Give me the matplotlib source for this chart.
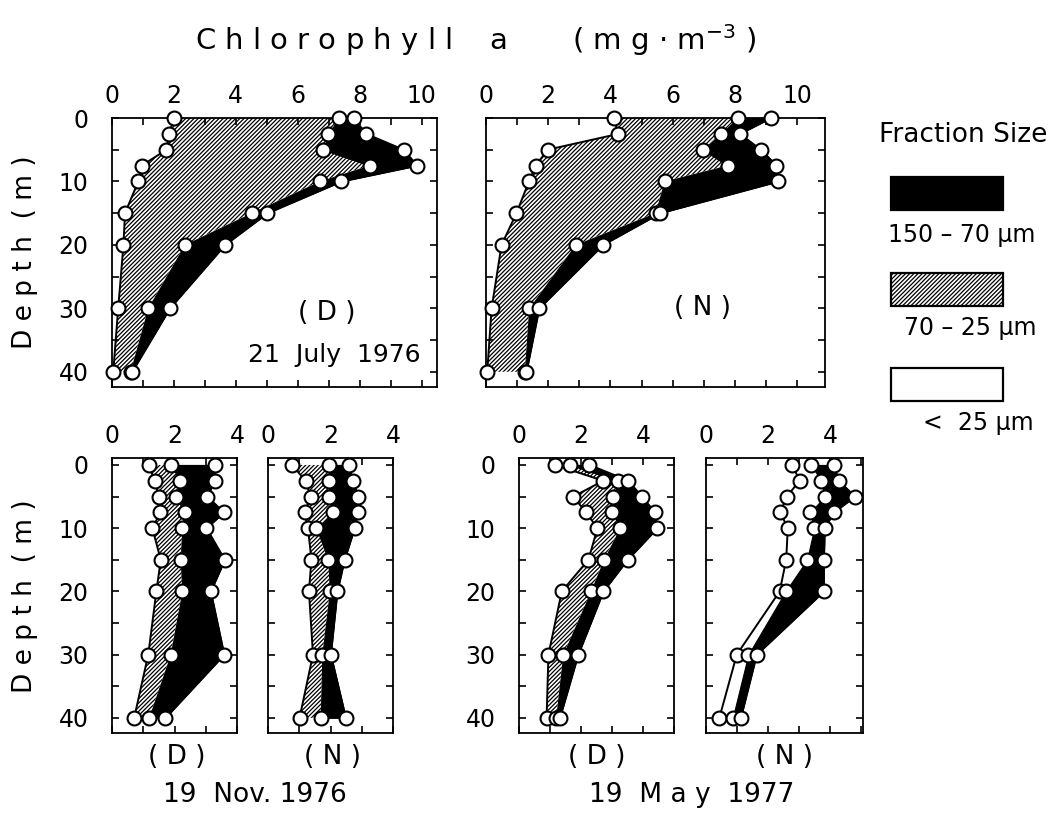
import matplotlib
matplotlib.use("Agg")
import matplotlib.pyplot as plt
from matplotlib.ticker import MultipleLocator
from matplotlib.patches import Rectangle

plt.rcParams["font.family"] = ["DejaVu Sans"]
plt.rcParams["hatch.color"] = "black"
plt.rcParams["hatch.linewidth"] = 0.9

# Sampling depths (m)
depths = [0, 2.5, 5, 7.5, 10, 15, 20, 30, 40]

# Cumulative chlorophyll a (mg m-3): <25 um, <70 um, <150 um
jul_d_small = [2.00, 1.85, 1.76, 0.96, 0.85, 0.42, 0.37, 0.20, 0.04]
jul_d_mid = [7.33, 6.99, 6.82, 8.32, 6.71, 4.51, 2.35, 1.17, 0.60]
jul_d_total = [7.81, 8.21, 9.42, 9.86, 7.41, 5.02, 3.65, 1.87, 0.65]

jul_n_small = [4.10, 4.26, 1.98, 1.60, 1.38, 0.98, 0.50, 0.18, 0.04]
jul_n_mid = [8.10, 7.55, 6.97, 7.77, 5.74, 5.45, 2.88, 1.39, 1.25]
jul_n_total = [9.16, 8.16, 8.84, 9.34, 9.40, 5.60, 3.76, 1.71, 1.30]

nov_d_small = [1.18, 1.36, 1.50, 1.55, 1.29, 1.56, 1.42, 1.16, 0.71]
nov_d_mid = [1.90, 2.16, 2.04, 2.32, 2.25, 2.20, 2.25, 1.88, 1.19]
nov_d_total = [3.29, 3.29, 3.05, 3.58, 3.02, 3.61, 3.16, 3.59, 1.71]

nov_n_small = [0.77, 1.20, 1.36, 1.17, 1.28, 1.39, 1.31, 1.44, 1.01]
nov_n_mid = [1.95, 1.95, 1.95, 2.09, 1.55, 1.93, 1.98, 1.74, 1.69]
nov_n_total = [2.58, 2.72, 2.88, 2.88, 2.77, 2.45, 2.22, 2.01, 2.49]

may_d_small = [1.16, 2.72, 1.75, 2.16, 2.53, 2.24, 1.38, 0.95, 0.89]
may_d_mid = [1.65, 3.20, 3.04, 3.01, 3.26, 2.74, 2.32, 1.43, 1.20]
may_d_total = [2.27, 3.53, 3.96, 4.39, 4.46, 3.50, 2.72, 1.91, 1.32]

may_n_small = [2.78, 3.01, 2.60, 2.39, 2.63, 2.58, 2.37, 0.99, 0.43]
may_n_mid = [3.39, 3.70, 3.82, 3.35, 3.48, 3.25, 2.56, 1.36, 0.86]
may_n_total = [4.11, 4.27, 4.79, 4.11, 3.82, 3.79, 3.79, 1.63, 1.12]

HATCH = "////////"
W, H = 1062, 816
fig = plt.figure(figsize=(W / 100, H / 100), dpi=100)


def add_panel(x0, x1, y0, y1, xmax, ytop, ylabels, hatched=True,
              small=None, mid=None, total=None):
    ax = fig.add_axes([x0 / W, 1 - y1 / H, (x1 - x0) / W, (y1 - y0) / H])
    if hatched:
        ax.fill_betweenx(depths, small, mid, facecolor="white",
                         edgecolor="black", hatch=HATCH, linewidth=0)
    ax.fill_betweenx(depths, mid, total, facecolor="black",
                     edgecolor="black", linewidth=0.8)
    ax.plot(small, depths, color="black", lw=1.4, clip_on=False)
    ax.plot(total, depths, color="black", lw=1.4, clip_on=False)
    for series in (small, mid, total):
        ax.plot(series, depths, linestyle="none", marker="o", ms=10,
                mfc="white", mec="black", mew=1.5, clip_on=False, zorder=5)
    ax.set_xlim(0, xmax)
    ax.set_ylim(42.4, ytop)
    ax.xaxis.set_major_locator(MultipleLocator(2))
    ax.xaxis.set_minor_locator(MultipleLocator(1))
    ax.yaxis.set_major_locator(MultipleLocator(10))
    ax.yaxis.set_minor_locator(MultipleLocator(5))
    ax.tick_params(which="both", direction="in", length=5, width=1.2,
                   top=True, right=True, bottom=True, left=True,
                   labeltop=True, labelbottom=False,
                   labelleft=ylabels, labelsize=17)
    ax.tick_params(axis="x", pad=7)
    ax.tick_params(axis="y", pad=17)
    for s in ax.spines.values():
        s.set_linewidth(1.3)
    return ax


add_panel(112, 437, 118, 387, 10.5, 0, True,
          small=jul_d_small, mid=jul_d_mid, total=jul_d_total)
add_panel(486, 825, 118, 387, 10.9, 0, False,
          small=jul_n_small, mid=jul_n_mid, total=jul_n_total)
add_panel(112, 237, 458, 733, 4.0, -1.1, True,
          small=nov_d_small, mid=nov_d_mid, total=nov_d_total)
add_panel(268, 393, 458, 733, 4.0, -1.1, False,
          small=nov_n_small, mid=nov_n_mid, total=nov_n_total)
add_panel(519, 674, 458, 733, 5.0, -1.1, True,
          small=may_d_small, mid=may_d_mid, total=may_d_total)
add_panel(706, 863, 458, 733, 5.05, -1.1, False, hatched=False,
          small=may_n_small, mid=may_n_mid, total=may_n_total)


def ftext(x, y, s, **kw):
    fig.text(x / W, 1 - y / H, s, ha="center", va="center", **kw)


ftext(476, 40, "C h l o r o p h y l l    a       ( m g · m$^{-3}$ )", fontsize=21)
ftext(25, 252, "D e p t h  ( m )", fontsize=19, rotation=90)
ftext(25, 596, "D e p t h  ( m )", fontsize=19, rotation=90)

ftext(327, 313, "( D )", fontsize=19)
ftext(334, 355, "21  July  1976", fontsize=18)
ftext(703, 308, "( N )", fontsize=19)

ftext(177, 757, "( D )", fontsize=19)
ftext(333, 757, "( N )", fontsize=19)
ftext(255, 795, "19  Nov. 1976", fontsize=19)
ftext(597, 757, "( D )", fontsize=19)
ftext(785, 757, "( N )", fontsize=19)
ftext(692, 795, "19  M a y  1977", fontsize=19)

# Legend of size fractions
ftext(963, 135, "Fraction Size", fontsize=19)
legend_items = [
    (177, {"facecolor": "black"}, 962, 235, "150 – 70 µm"),
    (273, {"facecolor": "white", "hatch": HATCH}, 970, 328, "70 – 25 µm"),
    (368, {"facecolor": "white"}, 978, 423, "<  25 µm"),
]
for top, style, tx, ty, label in legend_items:
    fig.patches.append(Rectangle((891 / W, 1 - (top + 33) / H), 112 / W, 33 / H,
                                 transform=fig.transFigure, edgecolor="black",
                                 linewidth=1.6, **style))
    ftext(tx, ty, label, fontsize=17)

fig.savefig("out.png", dpi=100, facecolor="white")
